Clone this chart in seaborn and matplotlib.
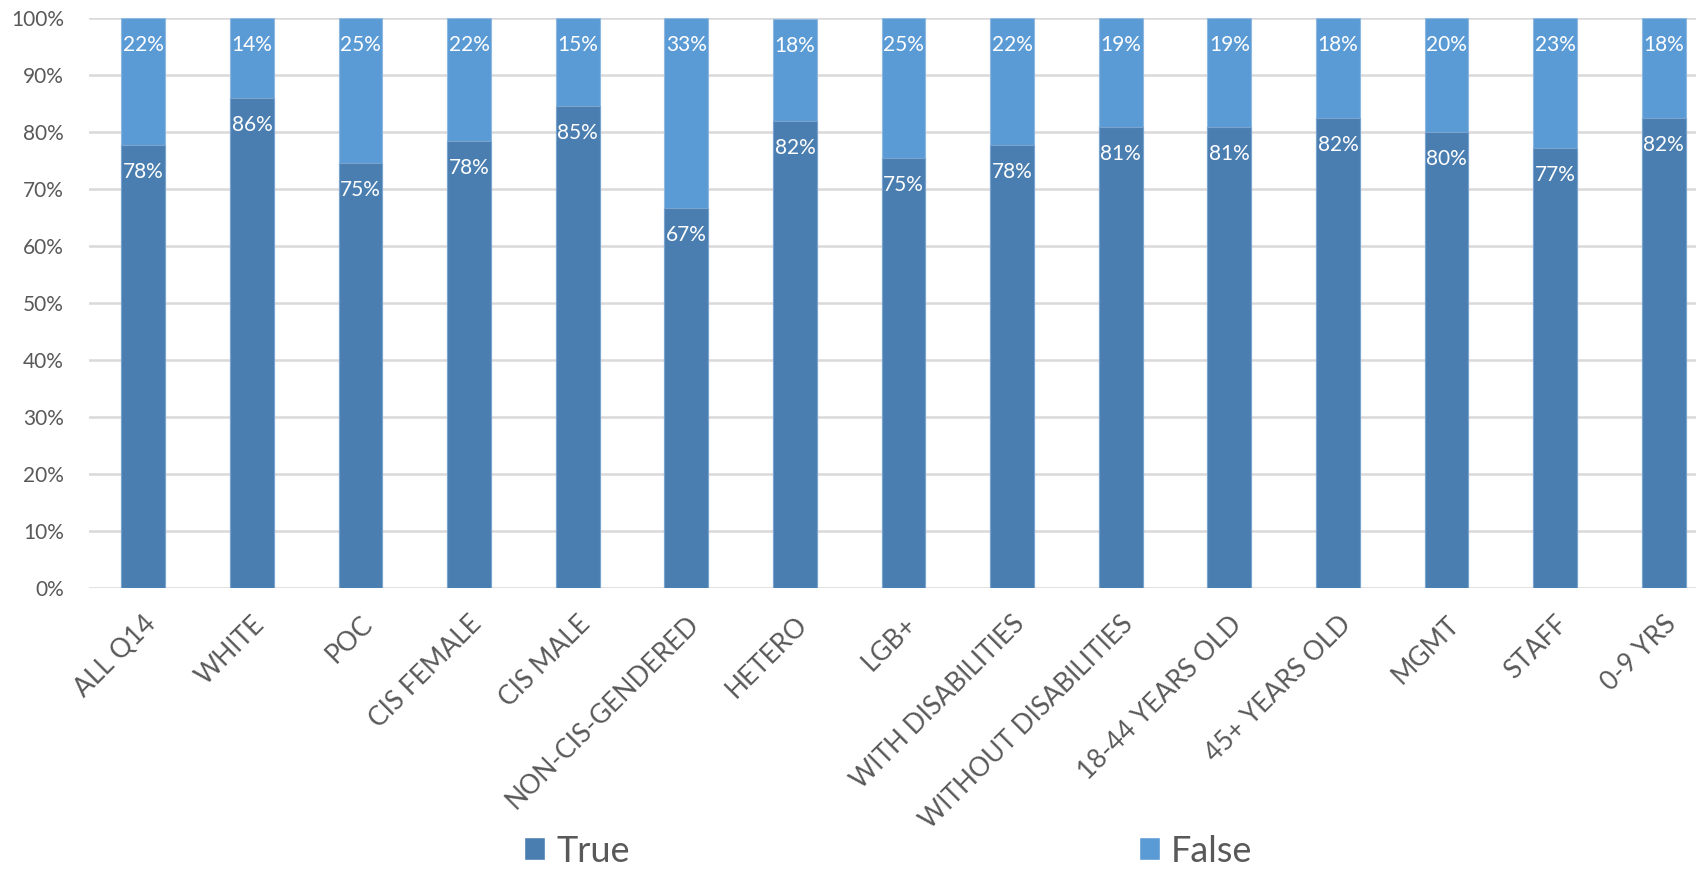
import pandas as pd
import matplotlib
matplotlib.use('Agg')
import matplotlib.pyplot as plt
from matplotlib.patches import Patch
import seaborn as sns

sns.set_style('white')
plt.rcParams['font.family'] = ['Lato', 'DejaVu Sans']

# data (percent)
categories = ['ALL Q14', 'WHITE', 'POC', 'CIS FEMALE', 'CIS MALE', 'NON-CIS-GENDERED',
              'HETERO', 'LGB+', 'WITH DISABILITIES', 'WITHOUT DISABILITIES',
              '18-44 YEARS OLD', '45+ YEARS OLD', 'MGMT', 'STAFF', '0-9 YRS']
true_pct = [77.7, 86.0, 74.6, 78.4, 84.6, 66.7, 81.8, 75.4, 77.6, 80.8, 80.9, 82.4, 79.9, 77.1, 82.4]
false_pct = [22.3, 14.0, 25.4, 21.6, 15.4, 33.3, 17.9, 24.6, 22.4, 19.2, 19.1, 17.6, 20.1, 22.9, 17.6]
yticks = list(range(0, 101, 10))

dark = '#4a7eb0'
light = '#5b9bd5'
grey = '#595959'

df = pd.DataFrame({'group': categories, 'True': true_pct, 'False': false_pct})
df['total'] = df['True'] + df['False']

fig = plt.figure(figsize=(16.96, 8.72), dpi=100)
ax = fig.add_axes([89 / 1696, 0.326, (1718 - 89) / 1696, 570 / 872])

# grid first so bars sit on top
for t in yticks:
    ax.axhline(t, color='#d9d9d9', lw=1.8, zorder=0)

sns.barplot(data=df, x='group', y='total', color=light, width=0.405,
            saturation=1, edgecolor='#8fb8e0', linewidth=0.8, ax=ax, zorder=2)
sns.barplot(data=df, x='group', y='True', color=dark, width=0.405,
            saturation=1, edgecolor='#7aa3cf', linewidth=0.8, ax=ax, zorder=3)

# value labels just inside the top of each segment
for i, row in df.iterrows():
    ax.annotate('{:.0f}%'.format(row['True']), (i, row['True']),
                xytext=(0, -27), textcoords='offset pixels',
                ha='center', va='center', color='white', fontsize=15, zorder=5)
    ax.annotate('{:.0f}%'.format(row['False']), (i, row['total']),
                xytext=(0, -27), textcoords='offset pixels',
                ha='center', va='center', color='white', fontsize=15, zorder=5)

ax.set_xlim(-0.5, len(categories) - 0.5)
ax.set_ylim(0, 100)
ax.set_yticks(yticks)
ax.set_yticklabels(['{}%'.format(t) for t in yticks], fontsize=15, color=grey)
ax.set_xticks(range(len(categories)))
ax.set_xticklabels(categories, rotation=45, ha='right', va='top',
                   rotation_mode='anchor', fontsize=19, color=grey)
ax.tick_params(axis='x', length=0, pad=17)
ax.tick_params(axis='y', length=0, pad=18)
ax.set_xlabel('')
ax.set_ylabel('')
sns.despine(ax=ax, left=True, bottom=True)

handles = [Patch(facecolor=dark, label='True'), Patch(facecolor=light, label='False')]
fig.legend(handles=handles, loc='center', bbox_to_anchor=(0.5236, 0.024), ncol=2,
           frameon=False, fontsize=26, handlelength=0.6, handleheight=0.6,
           handletextpad=0.3, columnspacing=14.1, labelcolor=grey,
           borderpad=0.1)

fig.savefig('out.png', dpi=100)
